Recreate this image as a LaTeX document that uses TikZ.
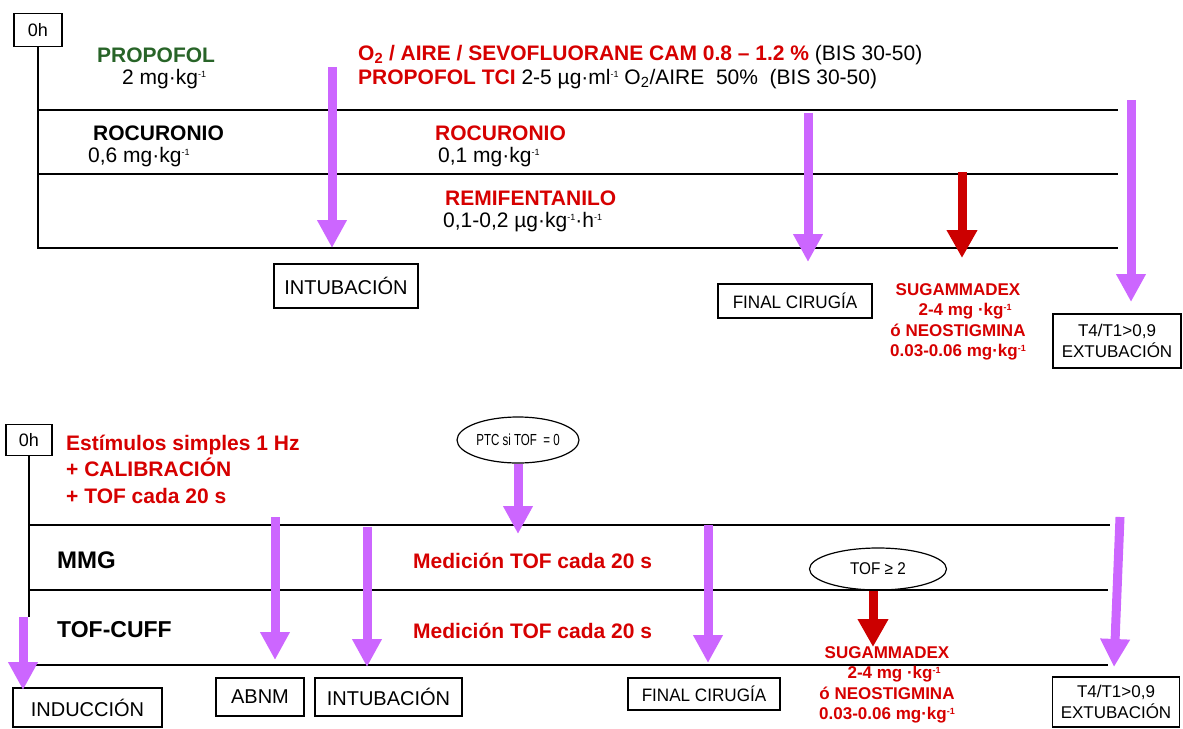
\documentclass[tikz,border=0pt]{standalone}
\usepackage{fontspec}
\setmainfont{Liberation Sans}
\usetikzlibrary{arrows.meta,shapes.geometric}
\definecolor{violeta}{RGB}{204,102,255}
\definecolor{rojo}{RGB}{204,0,0}
\definecolor{rojotxt}{RGB}{214,0,0}
\definecolor{verde}{RGB}{40,100,40}
\newcommand{\expo}[1]{\raisebox{0.6ex}{\fontsize{9}{9}\selectfont #1}}
\tikzset{
  linea/.style={line width=1.5pt},
  flecha/.style={violeta, line width=9pt, -{Triangle[width=28pt,length=28pt]}},
  flecharoja/.style={rojo, line width=9pt, -{Triangle[width=29pt,length=28pt]}},
  caja/.style={draw, line width=1.4pt, inner sep=0pt, align=center},
  elipse/.style={draw, ellipse, line width=1.2pt, inner sep=0pt},
  txt/.style={anchor=west, inner sep=0pt, font=\fontsize{21}{25}\selectfont},
  txtb/.style={txt, font=\fontsize{21}{25}\selectfont\bfseries},
  dosis/.style={inner sep=0pt, align=center, text=rojotxt, font=\fontsize{17}{20.5}\selectfont\bfseries}
}
\begin{document}
\begin{tikzpicture}[x=1pt,y=-1pt]
\useasboundingbox (0,0) rectangle (1183,728);
\node[caja, minimum width=48pt, minimum height=33pt, font=\fontsize{18}{20}\selectfont] (h0a) at (38,30) {0h};
\draw[linea] (h0a.south) -- (38,248) -- (1118,248);
\draw[linea] (38,110) -- (1118,110);
\draw[linea] (38,174) -- (1118,174);
\node[txtb, text=verde] (propofol) at (97,55) {PROPOFOL};
\node[txt] (propofold) at (122,79) {2 mg·kg\expo{-1}};
\node[txt] (gases) at (358,55) {\textcolor{rojotxt}{\textbf{O\textsubscript{2} / AIRE / SEVOFLUORANE\ CAM 0.8 – 1.2 \%}} (BIS 30-50)};
\node[txt] (tci) at (358,79) {\textcolor{rojotxt}{\textbf{PROPOFOL TCI}} 2-5 µg·ml\expo{-1} O\textsubscript{2}/AIRE\ \ 50\%\ \ (BIS 30-50)};
\node[txtb] (rocu) at (93,133) {ROCURONIO};
\node[txt] (rocud) at (88,157) {0,6 mg·kg\expo{-1}};
\node[txtb, text=rojotxt] (rocub) at (435,133) {ROCURONIO};
\node[txt] (rocubd) at (438,157) {0,1 mg·kg\expo{-1}};
\node[txtb, text=rojotxt] (remi) at (445,198) {REMIFENTANILO};
\node[txt] (remid) at (443,222) {0,1-0,2 µg·kg\expo{-1}·h\expo{-1}};
\node[caja, minimum width=144pt, minimum height=44pt, font=\fontsize{20}{22}\selectfont] (intuba) at (346,286) {INTUBACIÓN};
\node[caja, minimum width=154pt, minimum height=34pt, font=\fontsize{18}{20}\selectfont] (finala) at (795,301) {\scalebox{0.95}[1]{FINAL CIRUGÍA}};
\node[caja, minimum width=128pt, minimum height=54pt, font=\fontsize{17}{21}\selectfont] (extuba) at (1117,341) {T4/T1>0,9\\EXTUBACIÓN};
\node[dosis] (reversa) at (958,322) {SUGAMMADEX\\\ \ \ 2-4 mg ·kg\expo{-1}\\ó NEOSTIGMINA\\0.03-0.06 mg·kg\expo{-1}};
\coordinate (a1s) at (332,67);  \coordinate (a1e) at (332,248);
\coordinate (a2s) at (808,113); \coordinate (a2e) at (808,262);
\coordinate (a3s) at (1131,100); \coordinate (a3e) at (1131,302);
\coordinate (r1s) at (962,172); \coordinate (r1e) at (962,258);
\draw[flecha] (a1s) -- (a1e);
\draw[flecha] (a2s) -- (a2e);
\draw[flecha] (a3s) -- (a3e);
\draw[flecharoja] (r1s) -- (r1e);

\node[caja, minimum width=46pt, minimum height=31pt, font=\fontsize{18}{20}\selectfont] (h0b) at (29,440) {0h};
\draw[linea] (h0b.south) -- (29,617);
\draw[linea] (29,525) -- (1110,525);
\draw[linea] (29,590) -- (1108,590);
\draw[linea] (33,665) -- (1108,665);
\node[txtb, text=rojotxt, align=left, font=\fontsize{21}{26.5}\selectfont\bfseries] (estim) at (66,469) {Estímulos simples 1\ Hz\\+ CALIBRACIÓN\\+ TOF cada\ 20 s};
\node[txtb, font=\fontsize{24}{26}\selectfont\bfseries] (mmg) at (57,560) {MMG};
\node[txtb, font=\fontsize{23}{26}\selectfont\bfseries] (cuff) at (57,630) {TOF-CUFF};
\node[txtb, text=rojotxt] (medmmg) at (413,561) {Medición TOF cada 20\ s};
\node[txtb, text=rojotxt] (medcuff) at (413,631) {Medición TOF cada 20\ s};
\node[elipse, minimum width=122pt, minimum height=46pt, font=\fontsize{16}{18}\selectfont] (ptc) at (518,440) {\scalebox{0.72}[1]{PTC si TOF\ \ = 0}};
\node[elipse, minimum width=137pt, minimum height=42pt, font=\fontsize{17}{19}\selectfont] (tof2) at (878,569) {\scalebox{0.9}[1]{TOF ≥ 2}};
\node[caja, minimum width=149pt, minimum height=39pt, font=\fontsize{20}{22}\selectfont] (induc) at (87.5,707.5) {INDUCCIÓN};
\node[caja, minimum width=88pt, minimum height=38pt, font=\fontsize{20}{22}\selectfont] (abnm) at (260,697) {ABNM};
\node[caja, minimum width=147pt, minimum height=38pt, font=\fontsize{20}{22}\selectfont] (intubb) at (388.5,697) {INTUBACIÓN};
\node[caja, minimum width=152pt, minimum height=32pt, font=\fontsize{18}{20}\selectfont] (finalb) at (704,694) {\scalebox{0.95}[1]{FINAL CIRUGÍA}};
\node[caja, minimum width=127pt, minimum height=50pt, font=\fontsize{17}{21}\selectfont] (extubb) at (1116,702) {T4/T1>0,9\\EXTUBACIÓN};
\node[dosis] (reversb) at (887,685) {SUGAMMADEX\\\ \ \ 2-4 mg ·kg\expo{-1}\\ó NEOSTIGMINA\\0.03-0.06 mg·kg\expo{-1}};
\coordinate (b0s) at (23,617);  \coordinate (b0e) at (23,690);
\coordinate (b1s) at (275,517); \coordinate (b1e) at (275,660);
\coordinate (b2s) at (367,527); \coordinate (b2e) at (367,667);
\coordinate (b3s) at (708,525); \coordinate (b3e) at (708,663);
\coordinate (b4s) at (1120,517); \coordinate (b4e) at (1114,667);
\coordinate (ptce) at (518,534);
\coordinate (r2e) at (873,647);
\draw[flecha] (b0s) -- (b0e);
\draw[flecha] (b1s) -- (b1e);
\draw[flecha] (b2s) -- (b2e);
\draw[flecha] (b3s) -- (b3e);
\draw[flecha] (b4s) -- (b4e);
\draw[flecha] (ptc.south) -- (ptce);
\draw[flecharoja] (tof2.south -| r2e) -- (r2e);
\end{tikzpicture}
\end{document}
